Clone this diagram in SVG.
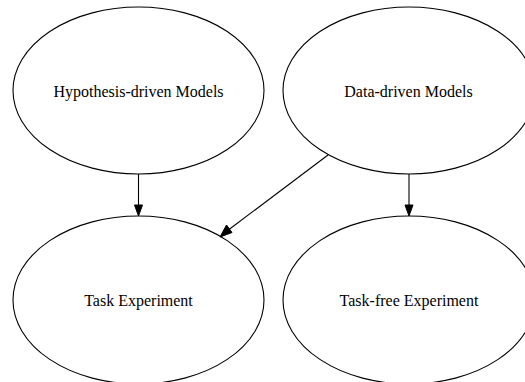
<svg xmlns="http://www.w3.org/2000/svg" width="525" height="382" viewBox="0 0 525 382">
  <style>
    .node ellipse { fill: #ffffff; stroke: #000000; stroke-width: 1.1; }
    .node text { font-family: "Liberation Serif", "Times New Roman", serif; font-size: 16px; fill: #000000; text-anchor: middle; }
    .edge line { stroke: #000000; stroke-width: 1.1; }
    .edge polygon { fill: #000000; stroke: #000000; stroke-width: 1; }
  </style>
  <rect width="525" height="382" fill="#ffffff"/>

  <g id="hypothesis" class="node">
    <ellipse cx="138.5" cy="90.5" rx="125.5" ry="83.5"/>
    <text x="138.5" y="96.5">Hypothesis-driven Models</text>
  </g>
  <g id="data" class="node">
    <ellipse cx="409" cy="90.5" rx="126" ry="83.5"/>
    <text x="408.5" y="96.5">Data-driven Models</text>
  </g>
  <g id="task" class="node">
    <ellipse cx="138.5" cy="300" rx="125.5" ry="84"/>
    <text x="138.5" y="305.5">Task Experiment</text>
  </g>
  <g id="taskfree" class="node">
    <ellipse cx="409" cy="300" rx="126" ry="84"/>
    <text x="409" y="305.5">Task-free Experiment</text>
  </g>

  <g id="connectors" class="edge">
    <line x1="138.5" y1="174" x2="138.5" y2="205"/>
    <polygon points="134.5,205 142.5,205 138.5,216"/>
    <line x1="328" y1="155" x2="229" y2="229.5"/>
    <polygon points="226.5,225 232,232.5 220,237"/>
    <line x1="409" y1="174" x2="409" y2="205"/>
    <polygon points="405,205 413,205 409,216"/>
  </g>
</svg>
